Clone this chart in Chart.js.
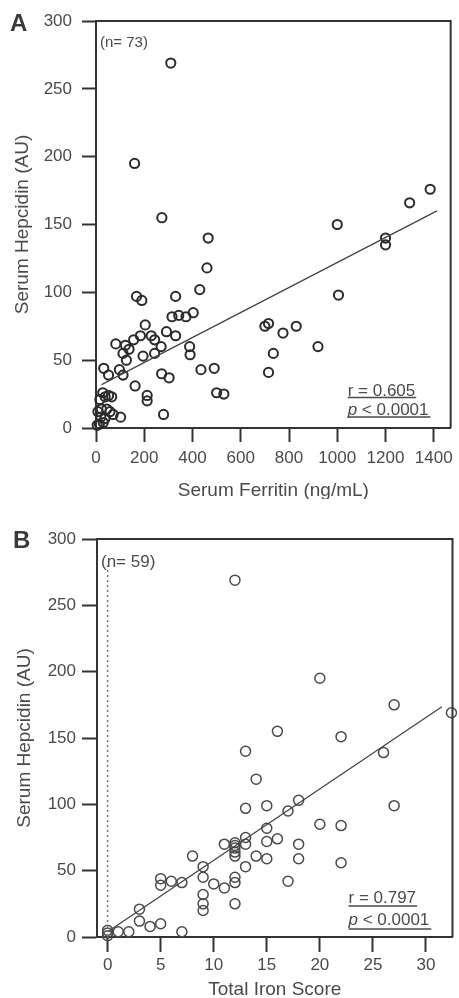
<!DOCTYPE html>
<html>
<head>
<meta charset="utf-8">
<title>Serum Hepcidin</title>
<script src="https://cdn.jsdelivr.net/npm/chart.js@4.4.1/dist/chart.umd.min.js"></script>
<style>
    html, body { margin: 0; padding: 0; background: #fff; }
    .panel { position: absolute; left: 0; width: 459px; height: 499px; }
    #panelA { top: 0; }
    #panelB { top: 499px; }
</style>
</head>
<body>
<div class="panel" id="panelA"><canvas id="ferritinChart" width="459" height="499"></canvas></div>
<div class="panel" id="panelB"><canvas id="ironScoreChart" width="459" height="499"></canvas></div>
<script>
// Panel A - serum ferritin (ng/mL) vs serum hepcidin (AU)
const ferritinX = [310, 160, 273, 465, 460, 430, 1385, 1300, 1000, 1200, 1200, 1005,
    700, 715, 775, 830, 920, 735, 715, 435, 490, 500, 530,
    168, 190, 330, 315, 343, 373, 403, 204, 292, 330,
    82, 122, 156, 184, 229, 243, 270, 112, 137, 195, 243, 388, 390,
    126, 32, 52, 97, 112, 272, 303, 162, 212, 212, 280,
    38, 52, 16, 22, 58, 71, 102, 37, 30, 14, 5, 20, 45, 65, 8, 28];
const ferritinHepcidin = [269, 195, 155, 140, 118, 102, 176, 166, 150, 140, 135, 98,
    75, 77, 70, 75, 60, 55, 41, 43, 44, 26, 25,
    97, 94, 97, 82, 83, 82, 85, 76, 71, 68,
    62, 61, 65, 68, 68, 65, 60, 55, 58, 53, 55, 60, 54,
    50, 44, 39, 43, 39, 40, 37, 31, 24, 20, 10,
    23, 24, 21, 14, 12, 10, 8, 7, 4, 3, 2, 8, 14, 23, 12, 26];
const ferritinFitX = [23, 1413];
const ferritinFitY = [32, 160];
const ferritinTicks = [0, 200, 400, 600, 800, 1000, 1200, 1400];

// Panel B - total iron score vs serum hepcidin (AU)
const ironScoreX = [0, 0, 0, 1, 2, 3, 3, 4, 5, 7, 5, 5, 6, 7, 8,
    9, 9, 9, 9, 9, 10, 11, 11,
    12, 12, 12, 12, 12, 12, 12, 12, 12,
    13, 13, 13, 13, 13, 14, 14, 15, 15, 15, 15, 16, 16, 17, 17,
    18, 18, 18, 20, 20, 22, 22, 22, 26, 27, 27, 32.4];
const ironScoreHepcidin = [5, 3, 1, 4, 4, 21, 12, 8, 10, 4, 44, 39, 42, 41, 61,
    53, 45, 32, 25, 20, 40, 37, 70,
    71, 67, 64, 61, 45, 41, 25, 269, 69,
    140, 97, 75, 70, 53, 119, 61, 99, 82, 72, 59, 155, 74, 95, 42,
    103, 70, 59, 195, 85, 151, 84, 56, 139, 175, 99, 169];
const ironFitX = [0, 31.5];
const ironFitY = [4, 173.5];
const ironZeroX = [0, 0];
const ironZeroY = [0, 280];
const ironScoreTicks = [0, 5, 10, 15, 20, 25, 30];

// shared y axis
const hepcidinTicks = [0, 50, 100, 150, 200, 250, 300];

const FONT = '"Liberation Sans", Arial, Helvetica, sans-serif';
const INK = '#333';
const TEXT = '#4a4a4a';

function toPoints(xs, ys) {
    return xs.map((x, i) => ({ x: x, y: ys[i] }));
}

// Frame (top + right), panel letter, n label and r / p block
const panelDecor = {
    id: 'panelDecor',
    afterDraw(chart, args, o) {
        const ctx = chart.ctx;
        const a = chart.chartArea;
        ctx.save();

        ctx.strokeStyle = INK;
        ctx.lineWidth = o.frameWidth;
        ctx.beginPath();
        ctx.moveTo(a.left, a.top);
        ctx.lineTo(a.right, a.top);
        ctx.lineTo(a.right, a.bottom);
        ctx.stroke();

        ctx.fillStyle = '#3a3a3a';
        ctx.font = 'bold 24px ' + FONT;
        ctx.textBaseline = 'middle';
        ctx.textAlign = 'left';
        ctx.fillText(o.letter, o.letterX, a.top + o.letterDy);

        ctx.fillStyle = TEXT;
        ctx.font = o.nSize + 'px ' + FONT;
        ctx.fillText(o.nText, a.left + 4, a.top + o.nDy);

        // r = ..., underlined
        ctx.textBaseline = 'alphabetic';
        ctx.font = '17px ' + FONT;
        const x0 = a.right - o.statsDx;
        const rBase = a.bottom - o.rDy;
        ctx.fillText(o.rText, x0, rBase);
        const rW = ctx.measureText(o.rText).width;

        // p < 0.0001 with italic p
        const pBase = a.bottom - o.pDy;
        ctx.font = 'italic 17px ' + FONT;
        ctx.fillText('p', x0, pBase);
        const pW = ctx.measureText('p').width;
        ctx.font = '17px ' + FONT;
        ctx.fillText(' < 0.0001', x0 + pW, pBase);
        const restW = ctx.measureText(' < 0.0001').width;

        ctx.strokeStyle = TEXT;
        ctx.lineWidth = 1.3;
        ctx.beginPath();
        ctx.moveTo(x0, rBase + o.rLine);
        ctx.lineTo(x0 + rW + 1, rBase + o.rLine);
        ctx.moveTo(x0, pBase + o.pLine);
        ctx.lineTo(x0 + pW + restW + 2, pBase + o.pLine);
        ctx.stroke();

        ctx.restore();
    }
};

function axisX(ticks, min, max, title, o) {
    return {
        type: 'linear',
        min: min,
        max: max,
        afterBuildTicks: s => { s.ticks = ticks.map(v => ({ value: v })); },
        afterFit: s => { s.height = o.height; },
        ticks: {
            color: TEXT, font: { size: 17, family: FONT }, padding: o.labelPad,
            maxRotation: 0, autoSkip: false,
            callback: v => String(v)
        },
        grid: { drawOnChartArea: false, drawTicks: true, tickLength: o.tick, tickWidth: 2, tickColor: INK },
        border: { display: true, color: INK, width: 2 },
        title: {
            display: true, text: title, color: TEXT,
            font: { size: 19, family: FONT, lineHeight: 0.8 },
            padding: { top: 0, bottom: o.titlePad }
        }
    };
}

function axisY(o) {
    return {
        type: 'linear',
        min: 0,
        max: 300,
        afterBuildTicks: s => { s.ticks = hepcidinTicks.map(v => ({ value: v })); },
        afterFit: s => { s.width = o.width; },
        ticks: { color: TEXT, font: { size: 17, family: FONT }, padding: o.labelPad, callback: v => String(v) },
        grid: { drawOnChartArea: false, drawTicks: true, tickLength: o.tick, tickWidth: 2, tickColor: INK },
        border: { display: true, color: INK, width: 2 },
        title: {
            display: true, text: 'Serum Hepcidin (AU)', color: TEXT,
            font: { size: 19, family: FONT, lineHeight: 0.8 },
            padding: { top: o.titlePad, bottom: 0 }
        }
    };
}

function baseOptions(padding) {
    return {
        responsive: false,
        animation: false,
        events: [],
        layout: { padding: padding },
        plugins: { legend: { display: false }, tooltip: { enabled: false } }
    };
}

function initFerritinChart() {
    const ctx = document.getElementById('ferritinChart').getContext('2d');
    const options = baseOptions({ top: 21, right: 6, bottom: 0, left: 0 });
    options.scales = {
        x: axisX(ferritinTicks, 0, 1470, 'Serum Ferritin (ng/mL)', { height: 71, tick: 14, labelPad: 6, titlePad: 1 }),
        y: axisY({ width: 96, tick: 14, labelPad: 10, titlePad: 15 })
    };
    options.plugins.panelDecor = {
        frameWidth: 2, letter: 'A', letterX: 10, letterDy: 3,
        nText: '(n= 73)', nSize: 15, nDy: 22,
        rText: 'r = 0.605', statsDx: 103, rDy: 32, pDy: 13, rLine: 1.5, pLine: 2
    };
    new Chart(ctx, {
        type: 'scatter',
        data: {
            datasets: [{
                data: toPoints(ferritinFitX, ferritinFitY),
                showLine: true,
                borderColor: '#444',
                borderWidth: 1.3,
                pointRadius: 0,
                clip: false
            }, {
                data: toPoints(ferritinX, ferritinHepcidin),
                pointStyle: 'circle',
                pointRadius: 4.6,
                pointBorderWidth: 2,
                borderColor: '#2b2b2b',
                backgroundColor: 'rgba(0,0,0,0)',
                clip: false
            }]
        },
        options: options,
        plugins: [panelDecor]
    });
}

function initIronScoreChart() {
    const ctx = document.getElementById('ironScoreChart').getContext('2d');
    const options = baseOptions({ top: 40, right: 4, bottom: 0, left: 0 });
    options.scales = {
        x: axisX(ironScoreTicks, -1, 32.5, 'Total Iron Score', { height: 61, tick: 15, labelPad: 3, titlePad: 1 }),
        y: axisY({ width: 97, tick: 15, labelPad: 6, titlePad: 17 })
    };
    options.plugins.panelDecor = {
        frameWidth: 2, letter: 'B', letterX: 13, letterDy: 2,
        nText: '(n= 59)', nSize: 17, nDy: 23,
        rText: 'r = 0.797', statsDx: 104, rDy: 34, pDy: 12, rLine: 3, pLine: 4
    };
    new Chart(ctx, {
        type: 'scatter',
        data: {
            datasets: [{
                // reference line at score 0
                data: toPoints(ironZeroX, ironZeroY),
                showLine: true,
                borderColor: '#777',
                borderWidth: 1.5,
                borderDash: [2, 3],
                pointRadius: 0,
                clip: false
            }, {
                data: toPoints(ironFitX, ironFitY),
                showLine: true,
                borderColor: '#444',
                borderWidth: 1.3,
                pointRadius: 0,
                clip: false
            }, {
                data: toPoints(ironScoreX, ironScoreHepcidin),
                pointStyle: 'circle',
                pointRadius: 5,
                pointBorderWidth: 1.5,
                borderColor: '#4a4a4a',
                backgroundColor: 'rgba(0,0,0,0)',
                clip: false
            }]
        },
        options: options,
        plugins: [panelDecor]
    });
}

document.addEventListener('DOMContentLoaded', function() {
    initFerritinChart();
    initIronScoreChart();
});
</script>
</body>
</html>
